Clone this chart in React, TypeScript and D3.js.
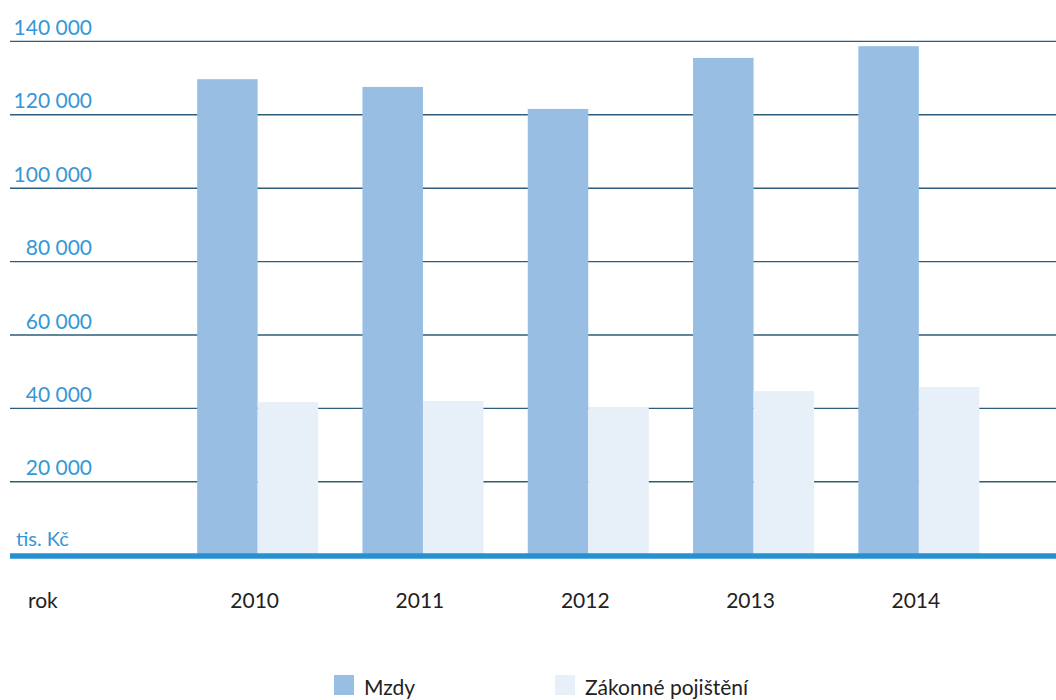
import React from "react";
import * as d3 from "d3";

const years = ["2010", "2011", "2012", "2013", "2014"];
const seriesNames = ["Mzdy", "Zákonné pojištění"];
const mzdy = [129700, 127600, 121600, 135500, 138700];
const pojisteni = [41700, 42000, 40400, 44700, 45800];
const yTicks = [20000, 40000, 60000, 80000, 100000, 120000, 140000];
const colors = ["#99bee4", "#e7eff9"];

const W = 1056;
const H = 700;
const FONT = "Lato, 'Open Sans', sans-serif";

export default function App() {
  const x = d3
    .scaleBand<string>()
    .domain(years)
    .range([175, 1001.5])
    .paddingInner(0.268)
    .paddingOuter(0.134);
  const xs = d3.scaleBand<string>().domain(seriesNames).range([0, x.bandwidth()]);
  const y = d3.scaleLinear().domain([0, 140000]).range([555.2, 41.4]);
  const fmt = (v: number) => d3.format(",")(v).replace(/,/g, " ");
  const series = [mzdy, pojisteni];

  return (
    <svg
      width={W}
      height={H}
      style={{ position: "absolute", left: 0, top: 0, background: "#fff" }}
      fontFamily={FONT}
    >
      {yTicks.map((t) => (
        <g key={t}>
          <line x1={10} x2={W} y1={y(t)} y2={y(t)} stroke="#2f5c78" strokeWidth={1.4} />
          <text x={92} y={y(t) - 6.5} textAnchor="end" fontSize={21} fill="#3597d5">
            {fmt(t)}
          </text>
        </g>
      ))}
      {years.map((yr, i) =>
        series.map((s, j) => (
          <rect
            key={yr + j}
            x={(x(yr) as number) + (xs(seriesNames[j]) as number)}
            y={y(s[i])}
            width={xs.bandwidth()}
            height={y(0) - y(s[i])}
            fill={colors[j]}
          />
        ))
      )}
      <line x1={10} x2={W} y1={556} y2={556} stroke="#2690d0" strokeWidth={5.5} />
      <text x={16} y={546} fontSize={20} fill="#3597d5">
        tis. Kč
      </text>
      <text x={28} y={608} fontSize={21} fill="#222">
        rok
      </text>
      {years.map((yr) => (
        <text
          key={yr}
          x={(x(yr) as number) + x.bandwidth() / 2 - 3}
          y={608}
          textAnchor="middle"
          fontSize={21}
          fill="#222"
        >
          {yr}
        </text>
      ))}
      {seriesNames.map((n, j) => (
        <g key={n} transform={`translate(${j === 0 ? 334 : 555},675)`}>
          <rect width={20} height={20} fill={colors[j]} />
          <text x={30} y={19.5} fontSize={21} fill="#222">
            {n}
          </text>
        </g>
      ))}
    </svg>
  );
}
